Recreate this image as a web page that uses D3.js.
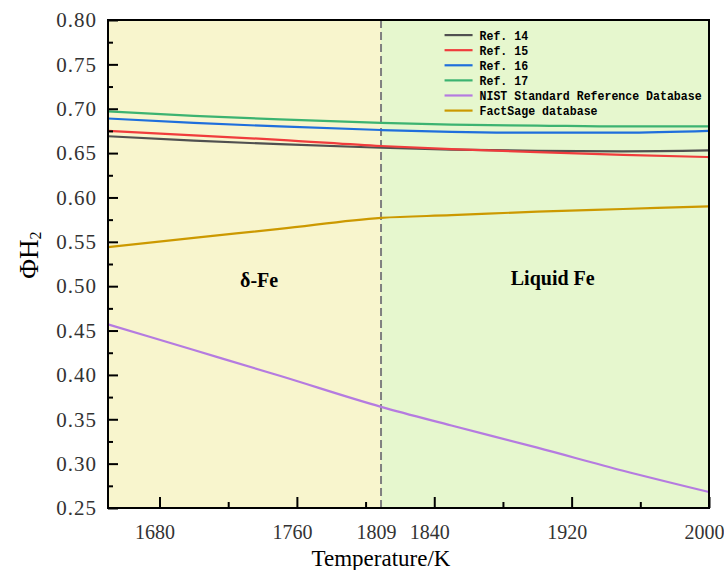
<!DOCTYPE html>
<html>
<head>
<meta charset="utf-8">
<script src="https://cdn.jsdelivr.net/npm/d3@7"></script>
<style>
  body { margin: 0; background: #fff; }
</style>
</head>
<body>
<div id="chart"></div>
<script>
// Data
const temps = [1650, 1700, 1750, 1809, 1850, 1900, 1950, 2000];
const ref14 = [0.669, 0.664, 0.660, 0.656, 0.654, 0.6525, 0.652, 0.653];
const ref15 = [0.675, 0.670, 0.665, 0.658, 0.6545, 0.651, 0.648, 0.6455];
const ref16 = [0.689, 0.684, 0.680, 0.676, 0.674, 0.673, 0.673, 0.675];
const ref17 = [0.697, 0.692, 0.688, 0.684, 0.682, 0.681, 0.680, 0.680];
const nist = [0.457, 0.428, 0.399, 0.364, 0.343, 0.318, 0.292, 0.268];
const factsage = [0.544, 0.5545, 0.5645, 0.577, 0.580, 0.584, 0.587, 0.590];

const seriesNames = ["Ref. 14", "Ref. 15", "Ref. 16", "Ref. 17", "NIST Standard Reference Database", "FactSage database"];
const seriesValues = [ref14, ref15, ref16, ref17, nist, factsage];
const seriesColors = ["#505050", "#f03c3c", "#1f6fdc", "#3cb371", "#b57be0", "#cc9900"];

const xTicks = [1680, 1760, 1809, 1840, 1920, 2000];
const xMinor = [1720, 1800, 1880, 1960];
const yTicks = [0.25, 0.30, 0.35, 0.40, 0.45, 0.50, 0.55, 0.60, 0.65, 0.70, 0.75, 0.80];
const yMinor = [0.275, 0.325, 0.375, 0.425, 0.475, 0.525, 0.575, 0.625, 0.675, 0.725, 0.775];
const meltPoint = 1809;

const serif = "'Liberation Serif', 'DejaVu Serif', serif";

// Dimensions and margins
const margin = { top: 20, right: 15, bottom: 62, left: 108 },
    width = 724 - margin.left - margin.right,
    height = 570 - margin.top - margin.bottom;

const svg = d3.select("#chart")
    .append("svg")
    .attr("width", 724)
    .attr("height", 570)
    .append("g")
    .attr("transform", `translate(${margin.left},${margin.top})`);

// Scales
const x = d3.scaleLinear().domain([1650, 2000]).range([0, width]);
const y = d3.scaleLinear().domain([0.25, 0.80]).range([height, 0]);

// Phase backgrounds
svg.append("rect")
    .attr("x", 0).attr("y", 0)
    .attr("width", x(meltPoint)).attr("height", height)
    .attr("fill", "#f8f5cd");
svg.append("rect")
    .attr("x", x(meltPoint)).attr("y", 0)
    .attr("width", width - x(meltPoint)).attr("height", height)
    .attr("fill", "#e6f7ce");

// Melting point line
svg.append("line")
    .attr("x1", x(meltPoint)).attr("x2", x(meltPoint))
    .attr("y1", 0).attr("y2", height)
    .attr("stroke", "#808080")
    .attr("stroke-width", 2)
    .attr("stroke-dasharray", "8,4");

// Phase labels
svg.append("text")
    .attr("x", x(1738)).attr("y", y(0.499))
    .attr("text-anchor", "middle")
    .style("font-family", serif)
    .style("font-weight", "bold")
    .style("font-size", "20px")
    .text("δ-Fe");
svg.append("text")
    .attr("x", x(1909)).attr("y", y(0.501))
    .attr("text-anchor", "middle")
    .style("font-family", serif)
    .style("font-weight", "bold")
    .style("font-size", "20px")
    .text("Liquid Fe");

// Lines
const line = d3.line()
    .x(d => x(d[0]))
    .y(d => y(d[1]))
    .curve(d3.curveMonotoneX);

seriesValues.forEach((vals, i) => {
    svg.append("path")
        .datum(temps.map((t, j) => [t, vals[j]]))
        .attr("fill", "none")
        .attr("stroke", seriesColors[i])
        .attr("stroke-width", 2.2)
        .attr("d", line);
});

// Axes (ticks point inward)
const yAxis = svg.append("g")
    .call(d3.axisLeft(y).tickValues(yTicks).tickSize(-10).tickPadding(11)
        .tickFormat(d3.format(".2f")));
yAxis.attr("font-family", serif);
yAxis.selectAll("text")
    .attr("font-family", serif)
    .style("font-size", "21px")
    .style("letter-spacing", "1px")
    .attr("fill", "#333");
svg.append("g")
    .call(d3.axisLeft(y).tickValues(yMinor).tickSize(-5).tickFormat(""));

const xAxis = svg.append("g")
    .attr("transform", `translate(0,${height})`)
    .call(d3.axisBottom(x).tickValues(xTicks).tickSize(-11).tickPadding(17)
        .tickFormat(d3.format("d")));
xAxis.attr("font-family", serif);
xAxis.selectAll(".tick").filter(d => d === meltPoint).select("line").remove();
xAxis.selectAll("text")
    .attr("dx", -5)
    .attr("font-family", serif)
    .style("font-size", "20px")
    .attr("fill", "#333");
svg.append("g")
    .attr("transform", `translate(0,${height})`)
    .call(d3.axisBottom(x).tickValues(xMinor).tickSize(-6).tickFormat(""));

svg.selectAll(".domain").remove();
svg.selectAll(".tick line").attr("stroke", "#000").attr("stroke-width", 2);

// Frame
svg.append("rect")
    .attr("width", width).attr("height", height)
    .attr("fill", "none")
    .attr("stroke", "#000")
    .attr("stroke-width", 2);

// Axis titles
svg.append("text")
    .attr("x", x(1809)).attr("y", height + 57.5)
    .attr("text-anchor", "middle")
    .style("font-family", serif)
    .style("font-size", "23px")
    .text("Temperature/K");

const yTitle = svg.append("text")
    .attr("transform", `translate(${-70},${y(0.535)}) rotate(-90)`)
    .attr("text-anchor", "middle")
    .style("font-family", serif)
    .style("font-size", "27px");
yTitle.append("tspan").text("ΦH");
yTitle.append("tspan").attr("dy", 3).style("font-size", "16px").text("2");

// Legend
const legend = svg.append("g").attr("transform", `translate(${x(1846)},${y(0.783)})`);
seriesNames.forEach((name, i) => {
    const g = legend.append("g").attr("transform", `translate(0,${i * 15.1})`);
    g.append("line")
        .attr("x1", 0).attr("x2", 28)
        .attr("stroke", seriesColors[i])
        .attr("stroke-width", 2.2);
    g.append("text")
        .attr("transform", "translate(35,0) scale(0.89,1)")
        .attr("dy", "0.35em")
        .style("font-family", "'Liberation Mono', 'DejaVu Sans Mono', monospace")
        .style("font-weight", "bold")
        .style("font-size", "13px")
        .text(name);
});
</script>
</body>
</html>
